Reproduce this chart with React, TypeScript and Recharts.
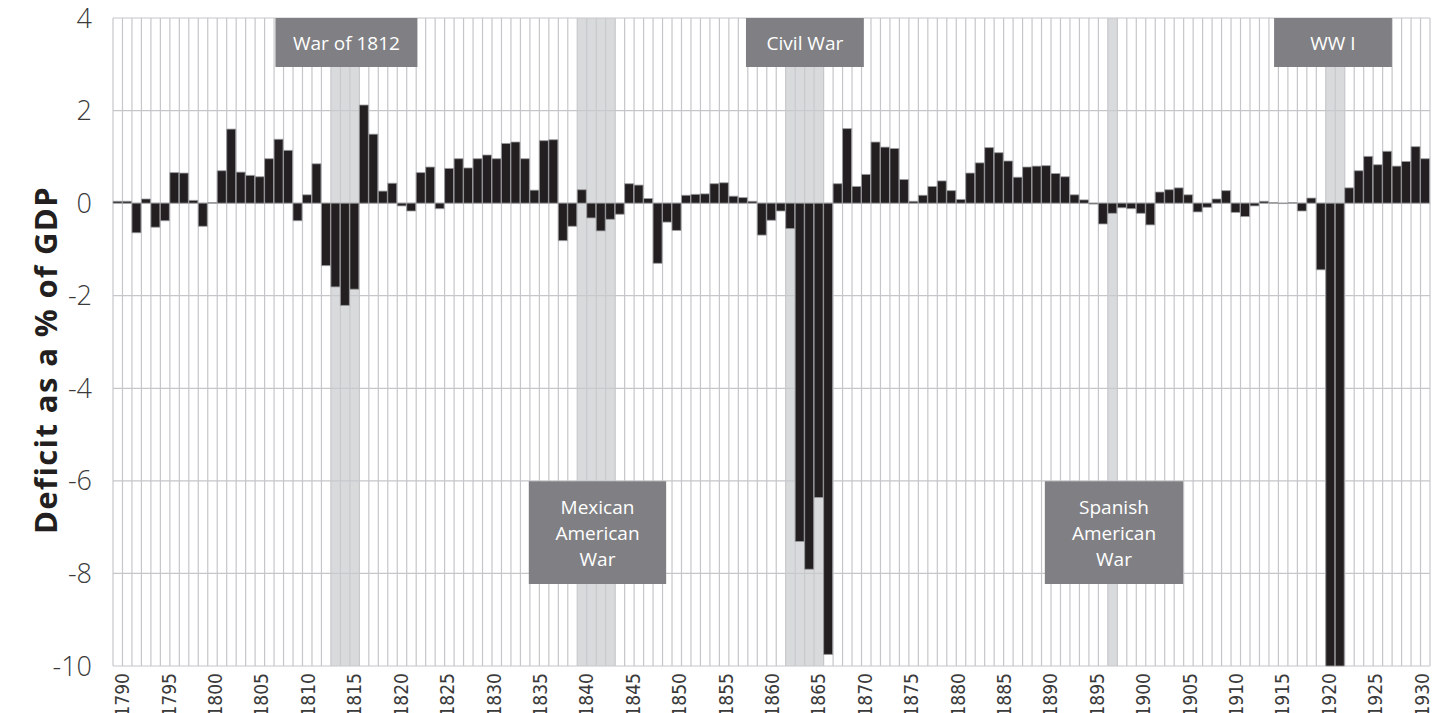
import React from "react"
import {
  BarChart,
  Bar,
  XAxis,
  YAxis,
  CartesianGrid,
  ReferenceArea,
} from "recharts"

// one bar per year (the two WW I bars run past the bottom of the axis)
const deficit = [
  0.04, 0.04, -0.64, 0.09, -0.52, -0.38, 0.66, 0.65, 0.06, -0.5,
  0.01, 0.7, 1.6, 0.67, 0.6, 0.57, 0.96, 1.38, 1.14, -0.38,
  0.18, 0.85, -1.35, -1.81, -2.21, -1.86, 2.12, 1.49, 0.26, 0.43,
  -0.06, -0.17, 0.66, 0.78, -0.12, 0.75, 0.96, 0.76, 0.96, 1.04,
  0.96, 1.29, 1.32, 0.96, 0.28, 1.35, 1.37, -0.81, -0.5, 0.29,
  -0.32, -0.6, -0.35, -0.24, 0.42, 0.39, 0.1, -1.3, -0.41, -0.59,
  0.17, 0.19, 0.2, 0.42, 0.44, 0.15, 0.12, 0.04, -0.69, -0.37,
  -0.17, -0.55, -7.31, -7.91, -6.36, -9.75, 0.42, 1.61, 0.36, 0.62,
  1.32, 1.21, 1.18, 0.51, 0.04, 0.17, 0.36, 0.48, 0.27, 0.08,
  0.65, 0.87, 1.2, 1.09, 0.91, 0.56, 0.78, 0.8, 0.81, 0.64,
  0.57, 0.18, 0.07, -0.02, -0.45, -0.22, -0.1, -0.12, -0.22, -0.47,
  0.24, 0.29, 0.33, 0.18, -0.19, -0.09, 0.09, 0.27, -0.2, -0.29,
  -0.06, 0.04, 0.01, -0.01, 0.01, -0.17, 0.11, -1.44, -10, -10,
  0.33, 0.7, 1.01, 0.83, 1.12, 0.8, 0.9, 1.22, 0.96,
]

const years = deficit.map((_, i) => 1790 + i)

const yearTicks = [
  1790, 1795, 1800, 1805, 1810, 1815, 1820, 1825, 1830, 1835, 1840, 1845, 1850, 1855, 1860,
  1865, 1870, 1875, 1880, 1885, 1890, 1895, 1900, 1905, 1910, 1915, 1920, 1925, 1930,
]
const valueTicks = [4, 2, 0, -2, -4, -6, -8, -10]

// shaded war years (first and last bar covered)
const warSpans = [
  { from: 1813, to: 1815 },
  { from: 1839, to: 1842 },
  { from: 1861, to: 1864 },
  { from: 1895, to: 1895 },
  { from: 1918, to: 1919 },
]

// grey label boxes, in axis units
const warLabels = [
  { lines: ["War of 1812"], x1: 1806.5, x2: 1821.8, y1: 2.94, y2: 4 },
  { lines: ["Civil War"], x1: 1857.2, x2: 1869.9, y1: 2.94, y2: 4 },
  { lines: ["WW I"], x1: 1914.1, x2: 1926.8, y1: 2.94, y2: 4 },
  { lines: ["Mexican", "American", "War"], x1: 1833.8, x2: 1848.6, y1: -8.23, y2: -6.01 },
  { lines: ["Spanish", "American", "War"], x1: 1889.4, x2: 1904.3, y1: -8.23, y2: -6.01 },
]

const data = years.map((year, i) => ({ year, deficit: deficit[i] }))

const GRID = "#c6c6ca"

// a grid line at every band edge of the bar axis
const bandEdges = ({ xAxis }: any) => {
  try {
    if (!xAxis || !xAxis.scale) return []
    const s = xAxis.scale
    const dom: any[] = typeof s.domain === "function" ? s.domain() : s.domain
    const rng: number[] = typeof s.range === "function" ? s.range() : s.range
    const pos = (d: any) =>
      typeof s === "function" ? s(d) : typeof s.map === "function" ? s.map(d) : s.apply(d)
    const bw =
      typeof s.bandwidth === "function"
        ? s.bandwidth()
        : (rng[1] - rng[0]) / dom.length
    const starts = dom.map((d) => pos(d))
    return [...starts, starts[starts.length - 1] + bw]
  } catch (e) {
    return []
  }
}

const YearTick = ({ x, y, payload }: any) => (
  <text
    x={x}
    y={y}
    transform={`rotate(-90, ${x}, ${y})`}
    textAnchor="end"
    dominantBaseline="central"
    fontFamily="'Liberation Sans Narrow', 'DejaVu Sans Condensed', Roboto, sans-serif"
    fontSize={19}
    fill="#3a3a3a"
  >
    {payload.value}
  </text>
)

const boxLabel = (lines: string[]) => (props: any) => {
  const vb = props.viewBox
  if (!vb) return null
  const cx = vb.x + vb.width / 2
  const cy = vb.y + vb.height / 2
  const lh = 26
  const top = cy - ((lines.length - 1) * lh) / 2
  return (
    <text
      x={cx}
      textAnchor="middle"
      fontFamily="'Open Sans', sans-serif"
      fontSize={19}
      fill="#ffffff"
    >
      {lines.map((l, i) => (
        <tspan key={i} x={cx} y={top + i * lh} dominantBaseline="central">
          {l}
        </tspan>
      ))}
    </text>
  )
}

const YTitle = (props: any) => {
  const vb = props.viewBox
  const x = vb.x - 8
  const y = vb.y + vb.height / 2 + 18
  return (
    <text
      x={x}
      y={y}
      transform={`rotate(-90, ${x}, ${y})`}
      textAnchor="middle"
      dominantBaseline="central"
      fontFamily="'Open Sans', sans-serif"
      fontWeight={700}
      fontSize={31}
      letterSpacing={1.4}
      fill="#231f20"
    >
      Deficit as a % of GDP
    </text>
  )
}

export default function App() {
  return (
    <div style={{ position: "absolute", left: 0, top: 0, background: "#fff" }}>
      <BarChart
        width={1442}
        height={713}
        data={data}
        margin={{ top: 18, right: 12, bottom: 0, left: 53 }}
        barCategoryGap={0}
      >
        <CartesianGrid
          xAxisId="bars"
          stroke={GRID}
          strokeWidth={1.2}
          verticalCoordinatesGenerator={bandEdges}
        />
        <XAxis
          xAxisId="years"
          dataKey="year"
          type="number"
          domain={[1789, 1930.9]}
          allowDataOverflow
          ticks={yearTicks}
          interval={0}
          height={47}
          axisLine={false}
          tickLine={false}
          tickSize={0}
          tickMargin={7}
          tick={<YearTick />}
        />
        <XAxis xAxisId="bars" dataKey="year" type="category" height={0} hide />
        <YAxis
          domain={[-10, 4]}
          ticks={valueTicks}
          interval={0}
          width={60}
          axisLine={false}
          tickLine={false}
          tickSize={0}
          tickMargin={21}
          tick={{ fontFamily: "'Open Sans', sans-serif", fontSize: 27, fill: "#3a3a3a", fontWeight: 300 }}
          label={<YTitle />}
        />
        {warSpans.map((w, i) => (
          <ReferenceArea
            key={`war-${i}`}
            xAxisId="bars"
            x1={w.from}
            x2={w.to}
            fill="#c9cacd"
            fillOpacity={0.7}
            stroke="none"
          />
        ))}
        <Bar
          xAxisId="bars"
          dataKey="deficit"
          fill="#231f20"
          stroke="#9c9ca0"
          strokeWidth={0.8}
          isAnimationActive={false}
        />
        {warLabels.map((w, i) => (
          <ReferenceArea
            key={`lbl-${i}`}
            xAxisId="years"
            x1={w.x1}
            x2={w.x2}
            y1={w.y1}
            y2={w.y2}
            fill="#808084"
            fillOpacity={1}
            stroke="none"
            ifOverflow="visible"
            label={boxLabel(w.lines)}
          />
        ))}
      </BarChart>
    </div>
  )
}
